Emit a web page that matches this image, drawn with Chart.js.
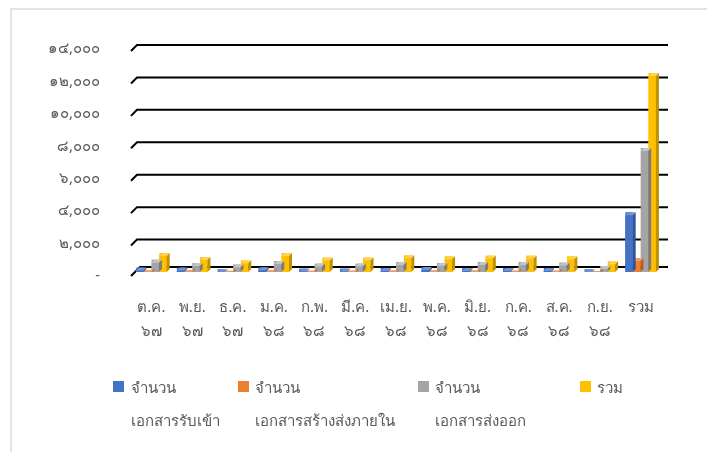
<!DOCTYPE html>
<html>
<head>
<meta charset="utf-8">
<script src="https://cdn.jsdelivr.net/npm/chart.js@4.4.1/dist/chart.umd.min.js"></script>
<style>
  html, body { margin: 0; padding: 0; background: #fff; }
  #wrap { position: relative; width: 707px; height: 452px; overflow: hidden; font-family: "Noto Sans", "DejaVu Sans", sans-serif; }
  #frame { position: absolute; left: 10px; top: 8px; width: 720px; height: 460px; border-top: 2px solid #e3e3e3; border-left: 2px solid #e3e3e3; }
  canvas { position: absolute; left: 0; top: 0; }
  .lg { position: absolute; color: #595959; font-size: 15px; }
  .lg .box { position: absolute; width: 11px; height: 11px; }
  .lg .t { position: absolute; white-space: nowrap; line-height: 20px; }
</style>
</head>
<body>
<div id="wrap">
  <div id="frame"></div>
  <canvas id="c" width="707" height="452"></canvas>
  <div id="legend"></div>
</div>
<script>
const categories = [
  ['ต.ค.', '๖๗'], ['พ.ย.', '๖๗'], ['ธ.ค.', '๖๗'], ['ม.ค.', '๖๘'], ['ก.พ.', '๖๘'],
  ['มี.ค.', '๖๘'], ['เม.ย.', '๖๘'], ['พ.ค.', '๖๘'], ['มิ.ย.', '๖๘'], ['ก.ค.', '๖๘'],
  ['ส.ค.', '๖๘'], ['ก.ย.', '๖๘'], ['รวม']
];
const seriesNames = [
  ['จำนวน', 'เอกสารรับเข้า'],
  ['จำนวน', 'เอกสารสร้างส่งภายใน'],
  ['จำนวน', 'เอกสารส่งออก'],
  ['รวม']
];
const received = [270, 270, 170, 290, 210, 210, 250, 310, 250, 250, 250, 170, 3690];
const internal = [100, 100, 70, 100, 80, 80, 90, 90, 90, 80, 80, 60, 850];
const sent     = [760, 550, 470, 680, 520, 520, 620, 550, 620, 620, 580, 370, 7640];
const total    = [1170, 920, 720, 1170, 890, 890, 1030, 970, 1010, 1010, 970, 660, 12280];
const yTickValues = [0, 2000, 4000, 6000, 8000, 10000, 12000, 14000];
const yTickLabels = ['-', '๒,๐๐๐', '๔,๐๐๐', '๖,๐๐๐', '๘,๐๐๐', '๑๐,๐๐๐', '๑๒,๐๐๐', '๑๔,๐๐๐'];

const colors = ['#4472C4', '#ED7D31', '#A5A5A5', '#FFC000'];
const sideColors = ['#2F5597', '#B85A1B', '#7B7B7B', '#BF9000'];
const topColors = ['#6E93D6', '#F29B61', '#C4C4C4', '#FFD34D'];
const seriesData = [received, internal, sent, total];

const DEPTH = 3;

const gridPlugin = {
  id: 'grid3d',
  beforeDatasetsDraw(chart) {
    const { ctx, chartArea } = chart;
    const y = chart.scales.y;
    ctx.save();
    ctx.strokeStyle = '#000';
    ctx.lineWidth = 2;
    yTickValues.forEach(v => {
      let py = y.getPixelForValue(v);
      let dx = 6, dy = 6;
      if (v === 0) { py = py - 5; dx = 9; dy = 9; }
      ctx.beginPath();
      ctx.moveTo(chartArea.left, py + dy);
      ctx.lineTo(chartArea.left + dx, py);
      ctx.lineTo(chartArea.right + 7, py);
      ctx.stroke();
    });
    ctx.restore();
  },
  afterDatasetDraw(chart, args) {
    const { ctx } = chart;
    const i = args.index;
    const meta = args.meta;
    ctx.save();
    meta.data.forEach(bar => {
      const w = bar.width;
      const l = bar.x - w / 2, r = bar.x + w / 2;
      const top = bar.y, base = bar.base;
      const d = Math.min(DEPTH, Math.max(base - top, 0));
      // repaint front face below top face
      ctx.fillStyle = colors[i];
      ctx.fillRect(l, top + d, w, base - top - d);
      // top face
      ctx.fillStyle = topColors[i];
      ctx.beginPath();
      ctx.moveTo(l, top + d);
      ctx.lineTo(l + DEPTH, top);
      ctx.lineTo(r + DEPTH, top);
      ctx.lineTo(r, top + d);
      ctx.closePath();
      ctx.fill();
      // side face
      ctx.fillStyle = sideColors[i];
      ctx.beginPath();
      ctx.moveTo(r, top + d);
      ctx.lineTo(r + DEPTH, top);
      ctx.lineTo(r + DEPTH, base - DEPTH);
      ctx.lineTo(r, base);
      ctx.closePath();
      ctx.fill();
    });
    ctx.restore();
  }
};

const chart = new Chart(document.getElementById('c'), {
  type: 'bar',
  data: {
    labels: categories,
    datasets: seriesData.map((d, i) => ({
      label: seriesNames[i].join(' '),
      data: d,
      backgroundColor: colors[i],
      borderWidth: 0,
      categoryPercentage: 0.76,
      barPercentage: 0.95
    }))
  },
  options: {
    responsive: false,
    animation: false,
    events: [],
    layout: { padding: { top: 45, right: 46, left: 0, bottom: 0 } },
    plugins: { legend: { display: false }, tooltip: { enabled: false } },
    scales: {
      x: {
        grid: { display: false, drawTicks: false },
        border: { display: false },
        ticks: {
          color: '#595959',
          font: { family: '"Noto Sans", "DejaVu Sans", sans-serif', size: 15, lineHeight: 1.65 },
          padding: 23,
          maxRotation: 0,
          autoSkip: false
        },
        afterFit(scale) { scale.height = 452 - 272; }
      },
      y: {
        min: 0, max: 14000,
        grid: { display: false, drawTicks: false },
        border: { display: false },
        afterBuildTicks(scale) { scale.ticks = yTickValues.map(v => ({ value: v })); },
        afterFit(scale) { scale.width = 131; },
        ticks: {
          color: '#595959',
          font: { family: '"Noto Sans", "DejaVu Sans", sans-serif', size: 15 },
          padding: 31,
          labelOffset: 4,
          callback: (v) => { const k = yTickValues.indexOf(v); return k >= 0 ? yTickLabels[k] : ''; }
        }
      }
    }
  },
  plugins: [gridPlugin]
});

// HTML legend
const legendX = [113, 238, 418, 580];
const legendEl = document.getElementById('legend');
seriesNames.forEach((lines, i) => {
  const item = document.createElement('div');
  item.className = 'lg';
  item.style.left = legendX[i] + 'px';
  item.style.top = '0px';
  const box = document.createElement('div');
  box.className = 'box';
  box.style.background = colors[i];
  box.style.left = '0px';
  box.style.top = '381px';
  item.appendChild(box);
  lines.forEach((txt, j) => {
    const t = document.createElement('div');
    t.className = 't';
    t.textContent = txt;
    t.style.left = (i === 0 ? 18 : 17) + 'px';
    t.style.top = (j === 0 ? 377 : 410) + 'px';
    item.appendChild(t);
  });
  legendEl.appendChild(item);
});
</script>
</body>
</html>
